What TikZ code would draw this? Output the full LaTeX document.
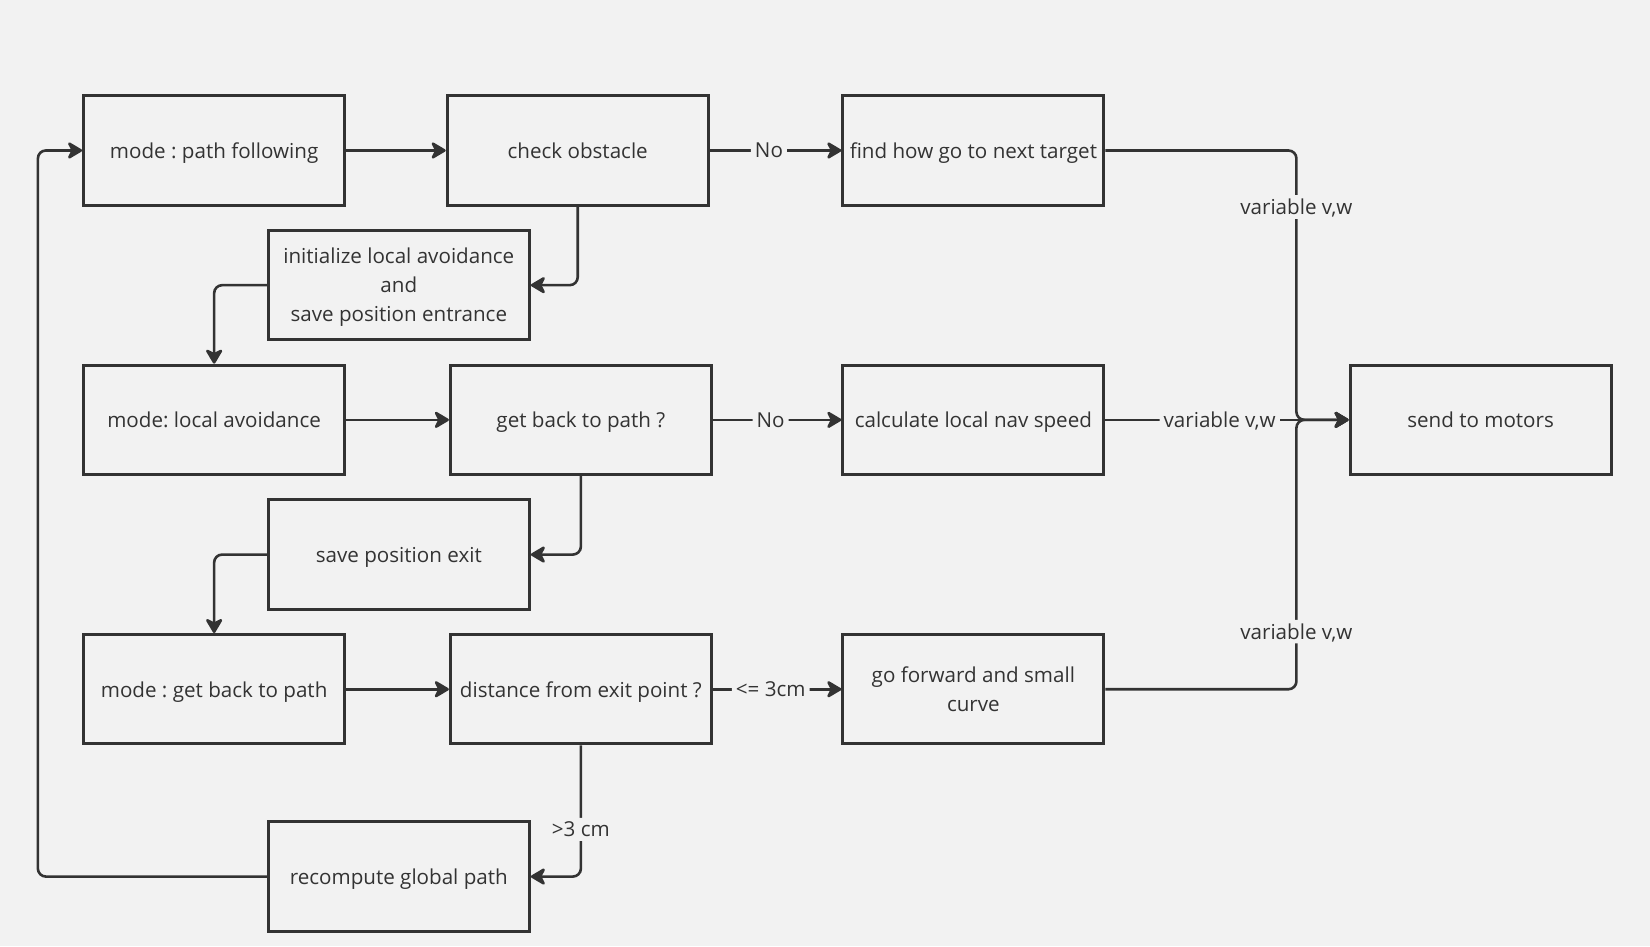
\documentclass[tikz,border=0pt]{standalone}
\usepackage{fontspec}
\setmainfont{Open Sans}
\usetikzlibrary{arrows.meta}
\definecolor{bg}{HTML}{F2F2F2}
\definecolor{ink}{HTML}{333333}
\frenchspacing
\begin{document}
\begin{tikzpicture}[x=0.52615pt,y=-0.52615pt,
  box/.style={draw=ink, line width=1.5pt, minimum width=130.5pt, minimum height=54.7pt,
    align=center, text=ink, inner sep=2pt, text depth=0pt,
    font=\fontsize{10.3}{14.5}\selectfont},
  flow/.style={draw=ink, line width=1.3pt, rounded corners=4pt,
    -{Stealth[length=8.5pt,width=10pt,inset=2.5pt,round]}},
  lbl/.style={fill=bg, text=ink, inner sep=2pt, text depth=0pt,
    font=\fontsize{10.3}{14.5}\selectfont}]
% canvas
\fill[bg] (0,0) rectangle (1568,899);
\useasboundingbox (0,0) rectangle (1568,899);

% process boxes
\node[box] (A) at (203.5,143) {mode : path following};
\node[box] (B) at (549,143)   {check obstacle};
\node[box] (C) at (925,143)   {find how go to next target};
\node[box] (D) at (379,271)   {initialize local avoidance\\and\\save position entrance};
\node[box] (E) at (203.5,399) {mode: local avoidance};
\node[box] (F) at (552,399)   {get back to path ?};
\node[box] (G) at (925,399)   {calculate local nav speed};
\node[box] (H) at (1407,399)  {send to motors};
\node[box] (I) at (379,527)   {save position exit};
\node[box] (J) at (203.5,655) {mode : get back to path};
\node[box] (K) at (552,655)   {distance from exit point ?};
\node[box] (L) at (925,655)   {go forward and small\\curve};
\node[box] (M) at (379,833)   {recompute global path};

% routing points
\coordinate (lx) at (36,143);
\coordinate (jn) at (1232,399);

% connectors
\draw[flow] (A) -- (B);
\draw[flow] (B) -- node[lbl,pos=0.45] {No} (C);
\draw[flow] (B.south) |- (D.east);
\draw[flow] (D.west) -| (E.north);
\draw[flow] (E) -- (F);
\draw[flow] (F) -- node[lbl,pos=0.45] {No} (G);
\draw[flow] (F.south) |- (I.east);
\draw[flow] (I.west) -| (J.north);
\draw[flow] (J) -- (K);
\draw[flow] (K) -- node[lbl,pos=0.45] {<= 3cm} (L);
\draw[flow] (K.south) |- node[lbl,pos=0.32] {>3 cm} (M.east);
\draw[flow] (M.west) -| (lx) -- (A.west);
\draw[flow] (C.east) -| node[lbl,pos=0.605] {variable v,w} (jn) -- (H.west);
\draw[flow] (G) -- node[lbl,pos=0.47] {variable v,w} (H);
\draw[flow] (L.east) -| node[lbl,pos=0.607] {variable v,w} (jn) -- (H.west);
\end{tikzpicture}
\end{document}
